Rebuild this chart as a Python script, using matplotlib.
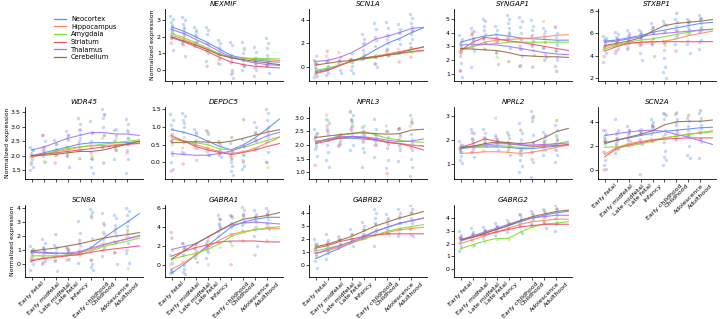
import numpy as np
import matplotlib
matplotlib.use("Agg")
import matplotlib.pyplot as plt

# developmental periods (x axis) and brain regions
periods = ["Early fetal", "Early midfetal", "Late midfetal", "Late fetal", "Infancy",
           "Early childhood", "Childhood", "Adolescence", "Adulthood"]
regions = ["Neocortex", "Hippocampus", "Amygdala", "Striatum", "Thalamus", "Cerebellum"]
colors = ["#5b8def", "#ff8a5c", "#7edc3c", "#f0506e", "#a275f5", "#9a6a42"]

genes = ["NEXMIF", "SCN1A", "SYNGAP1", "STXBP1",
         "WDR45", "DEPDC5", "NPRL3", "NPRL2", "SCN2A",
         "SCN8A", "GABRA1", "GABRB2", "GABRG2"]
# (row, col) slot of each gene
slots = [(0, 1), (0, 2), (0, 3), (0, 4),
         (1, 0), (1, 1), (1, 2), (1, 3), (1, 4),
         (2, 0), (2, 1), (2, 2), (2, 3)]

# smoothed trend per region (Neocortex, Hippocampus, Amygdala, Striatum, Thalamus, Cerebellum)
nexmif_lines = [[2.6, 2.35, 2.0, 1.65, 1.25, 0.85, 0.7, 0.6, 0.5, 0.45],
                [2.1, 1.85, 1.55, 1.25, 0.95, 0.75, 0.7, 0.65, 0.6, 0.55],
                [2.2, 1.95, 1.65, 1.3, 0.95, 0.75, 0.7, 0.68, 0.66, 0.65],
                [1.95, 1.7, 1.4, 1.1, 0.75, 0.45, 0.3, 0.2, 0.15, 0.1],
                [2.45, 2.2, 1.85, 1.5, 1.1, 0.75, 0.55, 0.4, 0.3, 0.25],
                [2.0, 1.75, 1.5, 1.2, 0.9, 0.7, 0.6, 0.5, 0.4, 0.3]]
scn1a_lines = [[-0.4, -0.2, 0.15, 0.5, 0.85, 1.45, 2.0, 2.4, 2.9, 3.3],
               [-0.6, -0.3, 0.1, 0.5, 0.75, 0.9, 1.1, 1.3, 1.5, 1.65],
               [-0.3, -0.1, 0.15, 0.45, 0.65, 0.8, 1.0, 1.1, 1.25, 1.35],
               [-0.5, -0.3, 0.1, 0.5, 0.75, 0.85, 1.0, 1.15, 1.3, 1.4],
               [0.45, 0.55, 0.8, 1.2, 1.75, 2.35, 2.6, 2.9, 3.25, 3.35],
               [0.15, 0.3, 0.45, 0.55, 0.7, 0.85, 1.0, 1.2, 1.45, 1.7]]
syngap1_lines = [[3.3, 3.55, 3.75, 3.85, 3.75, 3.6, 3.55, 3.5, 3.45, 3.45],
                 [2.7, 3.0, 3.3, 3.45, 3.5, 3.55, 3.6, 3.7, 3.8, 3.85],
                 [2.8, 3.0, 3.15, 3.2, 3.3, 3.3, 3.3, 3.3, 3.3, 3.3],
                 [2.7, 3.3, 3.65, 3.55, 3.4, 3.3, 3.15, 3.0, 2.85, 2.7],
                 [3.1, 3.15, 3.15, 3.1, 3.0, 2.85, 2.7, 2.55, 2.45, 2.4],
                 [2.85, 2.8, 2.75, 2.7, 2.55, 2.35, 2.3, 2.25, 2.25, 2.2]]
stxbp1_lines = [[5.3, 5.4, 5.6, 5.8, 6.1, 6.3, 6.5, 6.7, 6.9, 7.0],
                [4.8, 5.0, 5.1, 5.2, 5.2, 5.3, 5.5, 5.8, 6.0, 6.2],
                [4.6, 4.9, 5.2, 5.4, 5.5, 5.7, 5.9, 6.1, 6.3, 6.4],
                [4.4, 4.8, 5.1, 5.2, 5.25, 5.25, 5.25, 5.25, 5.25, 5.25],
                [5.2, 5.3, 5.5, 5.7, 5.9, 6.0, 6.1, 6.2, 6.3, 6.35],
                [4.9, 5.1, 5.3, 5.6, 6.2, 6.7, 6.9, 7.0, 7.1, 7.25]]
wdr45_lines = [[2.0, 2.1, 2.2, 2.3, 2.4, 2.45, 2.45, 2.45, 2.45, 2.5],
               [1.95, 2.05, 2.15, 2.2, 2.3, 2.35, 2.35, 2.38, 2.4, 2.45],
               [2.0, 2.05, 2.15, 2.25, 2.3, 2.35, 2.4, 2.45, 2.5, 2.55],
               [2.0, 2.05, 2.1, 2.15, 2.2, 2.25, 2.3, 2.35, 2.4, 2.42],
               [2.2, 2.3, 2.45, 2.6, 2.7, 2.8, 2.8, 2.75, 2.75, 2.7],
               [2.0, 2.02, 2.05, 2.1, 2.15, 2.15, 2.2, 2.3, 2.4, 2.5]]
depdc5_lines = [[0.92, 0.85, 0.75, 0.6, 0.45, 0.35, 0.5, 0.7, 0.95, 1.22],
                [0.7, 0.6, 0.5, 0.4, 0.3, 0.25, 0.3, 0.4, 0.55, 0.7],
                [0.65, 0.6, 0.55, 0.5, 0.38, 0.35, 0.42, 0.52, 0.62, 0.72],
                [0.75, 0.6, 0.45, 0.35, 0.28, 0.22, 0.28, 0.35, 0.45, 0.53],
                [0.25, 0.22, 0.2, 0.2, 0.25, 0.32, 0.45, 0.6, 0.75, 0.85],
                [0.55, 0.57, 0.58, 0.57, 0.55, 0.6, 0.68, 0.77, 0.85, 0.92]]
nprl3_lines = [[2.1, 2.2, 2.25, 2.25, 2.22, 2.18, 2.1, 2.05, 2.0, 1.97],
               [2.15, 2.2, 2.3, 2.3, 2.28, 2.2, 2.12, 2.05, 2.0, 1.95],
               [2.1, 2.2, 2.35, 2.42, 2.5, 2.38, 2.25, 2.18, 2.12, 2.1],
               [2.05, 2.15, 2.25, 2.3, 2.27, 2.2, 2.1, 2.05, 1.95, 1.82],
               [2.1, 2.22, 2.3, 2.32, 2.3, 2.25, 2.18, 2.12, 2.15, 2.22],
               [2.28, 2.33, 2.38, 2.43, 2.45, 2.42, 2.4, 2.42, 2.55, 2.58]]
nprl2_lines = [[1.65, 1.7, 1.72, 1.72, 1.7, 1.65, 1.65, 1.7, 1.75, 1.8],
               [1.45, 1.48, 1.52, 1.52, 1.5, 1.45, 1.5, 1.6, 1.7, 1.8],
               [1.7, 1.72, 1.76, 1.78, 1.75, 1.7, 1.72, 1.78, 1.85, 1.95],
               [1.7, 1.85, 2.05, 1.95, 1.85, 1.8, 1.75, 1.75, 1.78, 1.82],
               [1.7, 1.75, 1.8, 1.85, 1.85, 1.8, 1.8, 1.82, 1.85, 1.88],
               [1.68, 1.75, 1.85, 1.92, 1.9, 1.85, 1.9, 2.1, 2.35, 2.48]]
scn2a_lines = [[2.2, 2.5, 2.7, 2.9, 3.1, 3.25, 3.35, 3.45, 3.55, 3.6],
               [1.3, 1.9, 2.2, 2.4, 2.55, 2.7, 2.85, 3.0, 3.15, 3.3],
               [1.9, 1.95, 2.0, 2.2, 2.4, 2.7, 2.85, 3.0, 3.1, 3.2],
               [1.1, 1.8, 2.1, 2.3, 2.5, 2.6, 2.65, 2.7, 2.7, 2.7],
               [2.9, 3.05, 3.2, 3.3, 3.35, 3.25, 3.0, 2.75, 2.45, 2.15],
               [2.3, 2.5, 2.75, 3.0, 3.3, 3.8, 4.05, 4.1, 4.1, 4.2]]
scn8a_lines = [[0.9, 0.85, 0.8, 0.75, 0.8, 1.2, 1.85, 2.45, 3.0, 3.6],
               [0.3, 0.45, 0.55, 0.65, 0.8, 1.05, 1.35, 1.6, 1.8, 2.05],
               [0.6, 0.6, 0.6, 0.65, 0.65, 0.95, 1.25, 1.45, 1.65, 1.85],
               [0.25, 0.4, 0.5, 0.6, 0.7, 0.85, 1.0, 1.1, 1.2, 1.3],
               [0.85, 0.8, 0.75, 0.8, 0.9, 1.15, 1.4, 1.6, 1.8, 2.0],
               [0.95, 1.05, 1.15, 1.3, 1.45, 1.65, 1.85, 2.0, 2.1, 2.25]]
gabra1_lines = [[-0.9, 0.0, 1.0, 2.0, 3.0, 4.0, 4.5, 4.8, 5.0, 5.0],
                [-0.5, 0.2, 1.0, 1.8, 2.6, 3.2, 3.5, 3.7, 3.8, 3.8],
                [0.6, 0.9, 1.2, 1.6, 2.2, 3.0, 3.4, 3.7, 3.9, 4.0],
                [0.9, 1.4, 1.8, 2.1, 2.4, 2.5, 2.5, 2.5, 2.4, 2.4],
                [1.6, 1.9, 2.2, 2.9, 3.6, 4.2, 4.4, 4.5, 4.4, 4.3],
                [0.6, 1.4, 2.2, 2.9, 3.6, 4.3, 4.8, 5.0, 5.2, 5.5]]
gabrb2_lines = [[0.5, 0.9, 1.3, 1.7, 2.1, 2.6, 2.9, 3.2, 3.4, 3.6],
                [0.9, 1.1, 1.4, 1.7, 2.0, 2.3, 2.5, 2.7, 2.8, 2.9],
                [1.1, 1.3, 1.5, 1.8, 2.0, 2.3, 2.6, 2.8, 2.95, 3.1],
                [1.3, 1.5, 1.8, 2.0, 2.2, 2.3, 2.4, 2.4, 2.4, 2.4],
                [0.9, 1.2, 1.5, 1.8, 2.2, 2.6, 2.9, 3.2, 3.4, 3.6],
                [1.4, 1.6, 1.9, 2.2, 2.6, 3.0, 3.3, 3.6, 3.85, 4.1]]
gabrg2_lines = [[2.2, 2.5, 2.8, 3.1, 3.4, 3.7, 4.0, 4.2, 4.4, 4.5],
                [2.0, 2.3, 2.6, 2.9, 3.2, 3.5, 3.7, 3.8, 3.9, 3.9],
                [1.6, 1.9, 2.2, 2.4, 2.4, 2.9, 3.3, 3.5, 3.6, 3.7],
                [2.3, 2.5, 2.7, 2.9, 3.1, 3.3, 3.4, 3.5, 3.5, 3.5],
                [2.3, 2.6, 2.9, 3.2, 3.5, 3.8, 4.0, 4.1, 4.2, 4.2],
                [2.3, 2.5, 2.8, 3.1, 3.4, 3.8, 4.1, 4.3, 4.5, 4.6]]

# neocortex samples per period
nexmif_ncx = [[3.3, 3.1, 2.9, 2.7, 2.6, 2.5, 2.3, 2.0, 1.2], [3.2, 3.0, 2.8, 2.6, 2.5, 2.3, 2.1, 1.6, 0.8],
              [2.6, 2.4, 2.3, 2.1, 1.7], [2.6, 2.4, 2.2, 1.6, 1.0, 0.5], [1.8, 1.6, 1.4, 1.0, 0.7, 0.4],
              [1.7, 1.5, 0.9, 0.5, 0.0, -0.3, -0.5], [1.7, 1.3, 1.0, 0.6, 0.2, 0.0],
              [1.4, 1.1, 0.7, 0.4, 0.0, -0.4], [1.9, 1.6, 1.3, 0.9, 0.5, 0.2, -0.2]]
scn1a_ncx = [[0.6, 0.2, 0.0, -0.2, -0.4, -0.6, -0.8, -0.9], [0.5, 0.1, -0.1, -0.3, -0.5, -0.7],
             [0.2, -0.3, -0.5], [0.7, 0.4, 0.1, -0.3, -0.5], [2.8, 2.4, 1.9, 1.4, 1.0, 0.7],
             [3.7, 3.2, 2.5, 1.8, 0.8, 0.3, 0.0], [3.8, 3.3, 2.7, 2.4, 2.0, 1.5, 1.0],
             [3.6, 3.2, 2.9, 2.4, 1.9, 1.2], [4.5, 4.1, 3.7, 3.4, 3.1, 2.8, 2.4, 2.0]]
syngap1_ncx = [[3.8, 3.5, 3.2, 3.0, 2.7, 2.3, 1.8, 1.3, 0.8], [4.3, 4.1, 3.9, 3.6, 3.4, 3.1, 2.7, 1.5],
               [5.0, 4.8, 4.5, 4.2, 3.9, 3.6], [4.5, 4.2, 3.9, 3.6, 3.3, 2.5, 1.7],
               [5.3, 5.0, 4.7, 4.3, 4.0, 3.6, 2.9], [5.1, 4.8, 4.4, 4.0, 3.5, 2.8, 2.3, 1.6],
               [4.9, 4.5, 4.2, 3.8, 3.4, 3.0, 2.4], [4.3, 4.1, 3.9, 3.6, 3.3, 2.9, 2.2],
               [4.4, 4.0, 3.7, 3.4, 3.1, 2.7, 2.2, 1.6]]
stxbp1_ncx = [[5.8, 5.6, 5.4, 5.2, 5.0, 4.7, 4.2, 3.4], [6.1, 5.9, 5.7, 5.5, 5.3, 5.0, 4.6, 4.2],
              [6.3, 6.0, 5.8, 5.5, 5.1, 4.6], [6.3, 6.1, 5.9, 5.6, 5.0, 4.2, 3.6],
              [6.9, 6.6, 6.3, 6.0, 5.6, 5.0, 4.0], [7.1, 6.8, 6.1, 5.2, 4.5, 3.8, 3.0, 2.5, 2.0],
              [7.3, 7.0, 6.7, 6.3, 5.8, 5.0], [7.3, 7.1, 6.9, 6.6, 6.0, 5.0, 4.2],
              [7.7, 7.4, 7.2, 6.9, 6.6, 6.2, 5.4, 4.6]]
wdr45_ncx = [[2.3, 2.2, 2.1, 2.0, 1.9, 1.8, 1.6, 1.5], [2.7, 2.5, 2.3, 2.2, 2.1, 2.0, 1.8],
             [2.55, 2.4, 2.25, 2.15, 2.05], [2.85, 2.7, 2.6, 2.55, 2.3, 2.0, 1.6],
             [3.3, 3.1, 2.9, 2.75, 2.6, 2.5, 2.2], [3.2, 2.8, 2.5, 2.3, 1.9, 1.6, 1.4],
             [3.6, 3.45, 3.3, 3.0, 2.7, 2.3], [2.9, 2.7, 2.5, 2.35, 2.2, 1.9],
             [3.25, 3.1, 2.9, 2.6, 2.4, 2.2, 1.9, 1.4]]
depdc5_ncx = [[1.35, 1.2, 1.05, 0.95, 0.8, 0.6, 0.3, 0.0, -0.2], [1.4, 1.3, 1.2, 1.1, 1.0, 0.85, 0.6, 0.3],
              [0.95, 0.85, 0.8, 0.6, 0.4], [0.9, 0.8, 0.6, 0.4, 0.2], [0.6, 0.5, 0.35, 0.25, 0.15],
              [0.55, 0.3, 0.1, 0.0, -0.1, -0.25, -0.35], [0.65, 0.45, 0.2, 0.0, -0.1, -0.2],
              [1.15, 1.0, 0.85, 0.65, 0.4], [1.5, 1.4, 1.2, 1.0, 0.8, 0.6, 0.3, 0.0]]
nprl3_ncx = [[2.6, 2.45, 2.3, 2.15, 2.0, 1.85, 1.6], [2.95, 2.8, 2.6, 2.4, 2.2, 2.0, 1.75, 1.45, 1.2],
             [2.35, 2.2, 2.05, 1.95], [3.25, 3.1, 2.95, 2.85, 2.7, 2.55, 2.0, 1.8],
             [2.65, 2.4, 2.2, 1.9, 1.75, 1.2], [2.95, 2.6, 2.4, 2.2, 2.0, 1.55],
             [2.5, 2.3, 2.1, 1.9, 1.45, 1.15], [2.6, 2.4, 2.2, 2.0, 1.8, 1.4],
             [3.1, 2.8, 2.4, 2.1, 1.8, 1.5, 1.2, 0.85]]
nprl2_ncx = [[1.95, 1.8, 1.65, 1.5, 1.35, 1.2, 1.05], [2.45, 2.3, 2.1, 1.9, 1.7, 1.5, 1.3],
             [2.45, 2.3, 2.1, 1.9, 1.75], [2.2, 2.05, 1.9, 1.75, 1.6], [2.35, 2.1, 1.85, 1.65, 1.4],
             [2.7, 2.3, 1.9, 1.6, 1.4, 1.2, 0.95, 0.7], [3.2, 3.0, 2.8, 2.2, 1.9, 1.5, 1.1, 0.5],
             [2.35, 2.15, 1.95, 1.8, 1.6, 1.4], [2.6, 2.4, 2.2, 2.0, 1.8, 1.6, 1.4, 1.1]]
scn2a_ncx = [[3.4, 3.0, 2.8, 2.6, 2.4, 1.5, 0.8, 0.4, 0.1], [4.3, 3.4, 3.0, 2.7, 2.4, 2.1, 1.8, 1.4],
             [3.7, 3.4, 3.2, 2.8, 2.4], [3.4, 3.2, 3.0, 2.6, 2.2], [4.3, 4.0, 3.8, 3.6, 3.3, 3.0],
             [4.8, 4.6, 4.3, 3.0, 1.6, 1.1, 0.8, 0.4], [4.7, 4.3, 4.0, 3.8, 3.4, 2.7],
             [4.4, 4.1, 3.7, 3.4, 2.0, 1.3, 1.0], [4.8, 4.4, 4.1, 3.8, 3.5, 3.1, 2.6, 1.0]]
scn8a_ncx = [[1.3, 1.1, 0.9, 0.7, 0.5, 0.3, 0.0, -0.4], [1.8, 1.5, 1.2, 1.0, 0.8, 0.5, 0.2, 0.0],
             [1.4, 1.2, 0.9, 0.3, -0.5], [1.2, 1.0, 0.9, 0.7, 0.4], [3.1, 2.2, 1.5, 1.0, 0.8, 0.1],
             [3.9, 3.7, 3.5, 0.3, 0.0, -0.2, -0.4], [3.6, 2.8, 2.3, 1.8, 1.2, 0.6],
             [3.5, 3.3, 2.8, 2.3, 1.6, 0.9, 0.0], [4.0, 3.8, 3.5, 3.1, 2.7, 2.2, 1.5, 0.8, 0.1]]
gabra1_ncx = [[1.0, 0.2, -0.5, -0.7, -0.8, -0.9], [2.3, 1.8, 1.0, 0.0, -0.5, -0.8, -1.0],
              [1.8, 1.4, 1.0, 0.7, 0.3], [2.3, 2.1, 1.9, 1.6, 1.3, 0.7], [5.2, 4.8, 4.4, 4.2, 4.0, 3.6],
              [5.2, 5.0, 4.4, 4.0, 3.2, 2.4], [6.1, 5.8, 5.4, 5.0, 4.6, 4.2],
              [5.8, 5.4, 5.0, 4.6, 4.0, 3.0, 2.0], [6.0, 5.7, 5.4, 5.1, 4.8, 4.4, 3.8]]
gabrb2_ncx = [[2.0, 1.6, 1.3, 1.0, 0.7, 0.3, -0.2], [2.4, 1.9, 1.5, 1.2, 0.9, 0.5],
              [2.2, 1.9, 1.6, 1.3], [2.8, 2.4, 2.0, 1.8, 1.5], [3.3, 3.0, 2.7, 2.4, 2.1],
              [4.3, 4.0, 3.6, 3.2, 2.6, 1.5], [3.9, 3.6, 3.2, 2.8, 2.4],
              [4.3, 4.0, 3.6, 3.2, 2.8, 2.2], [4.6, 4.3, 4.0, 3.6, 3.2, 2.8, 2.2]]
gabrg2_ncx = [[3.0, 2.7, 2.4, 2.1, 1.8, 1.4], [3.2, 2.9, 2.6, 2.3, 1.9], [3.3, 3.0, 2.7, 2.4],
              [3.6, 3.3, 3.0, 2.7], [3.8, 3.5, 3.2, 2.9], [4.3, 4.0, 3.7, 3.3, 2.8],
              [4.5, 4.2, 3.9, 3.5], [4.7, 4.4, 4.1, 3.7, 3.2], [5.0, 4.7, 4.4, 4.0, 3.6, 3.0]]

# other-region samples per period: Hippocampus, Amygdala, Striatum, Thalamus, Cerebellum
nexmif_oth = [[2.1, 2.2, 1.6, 2.4, 1.9], [1.7, 2.0, 1.5, 2.2, 1.8], [1.5, 1.7, 1.4, 2.0, 1.6],
              [1.1, 1.3, 0.2, 1.5, 1.2], [0.9, 0.3, 0.6, 1.2, 0.9], [0.8, 0.8, 0.4, -0.2, 0.7],
              [0.7, 1.2, 0.3, 0.2, 0.6], [0.6, 0.7, 0.1, 0.3, 0.5], [0.6, 0.7, 0.2, 0.4, 0.3]]
scn1a_oth = [[0.5, -0.2, 0.2, 0.9, 0.3], [0.9, 0.0, 1.3, 0.6, 0.4], [1.2, 0.3, 0.5, 0.8, 0.5],
             [0.6, 0.4, 0.5, 1.1, 0.6], [0.7, 1.1, 0.8, 2.0, 0.7], [0.9, 1.0, 0.2, 2.2, 0.8],
             [1.2, 0.9, 1.4, 2.6, 1.0], [1.5, 1.2, 0.4, 2.9, 1.2], [1.6, 1.2, 0.8, 3.0, 1.6]]
syngap1_oth = [[2.6, 2.9, 1.2, 3.3, 2.5], [3.8, 3.2, 4.0, 3.5, 2.9], [3.5, 3.3, 3.6, 3.2, 2.8],
               [3.3, 2.2, 3.6, 3.4, 2.6], [3.6, 4.0, 3.4, 3.8, 1.9], [3.6, 3.5, 3.0, 2.8, 1.6],
               [3.7, 3.3, 3.1, 2.7, 1.5], [4.8, 3.3, 2.9, 2.4, 2.0], [4.4, 3.2, 2.7, 2.0, 1.2]]
stxbp1_oth = [[4.5, 4.8, 3.9, 5.4, 4.8], [4.9, 5.2, 4.4, 5.5, 5.2], [5.0, 5.4, 4.7, 5.8, 5.3],
              [5.1, 5.3, 4.9, 5.9, 5.6], [5.3, 5.5, 5.0, 6.0, 6.5], [5.3, 4.9, 5.1, 6.1, 6.8],
              [5.6, 5.9, 4.4, 6.2, 7.8], [5.9, 6.2, 5.3, 6.3, 7.0], [6.1, 6.4, 5.2, 6.3, 7.3]]
wdr45_oth = [[1.95, 2.0, 1.7, 2.2, 2.0], [2.2, 1.8, 2.7, 2.3, 2.1], [2.1, 2.2, 1.75, 2.4, 2.0],
             [2.3, 2.2, 2.0, 2.7, 2.1], [2.4, 2.3, 2.2, 2.9, 1.9], [2.4, 2.0, 2.1, 2.8, 1.9],
             [2.6, 2.7, 2.3, 3.4, 1.75], [2.5, 2.6, 2.3, 2.9, 2.2], [2.4, 2.6, 2.1, 2.8, 2.4]]
depdc5_oth = [[0.75, 0.5, -0.25, 0.2, 0.6], [0.4, 0.7, -0.05, 0.25, 0.55], [0.5, 0.6, 0.4, 0.05, 0.5],
              [0.4, 0.5, 0.3, 0.2, 0.85], [0.3, 0.3, 0.2, 0.25, 0.55], [0.2, 0.1, 0.15, 0.3, 0.7],
              [0.3, 0.2, 0.05, 0.45, 1.2], [0.4, 0.6, 0.35, 0.6, 0.8], [0.55, -0.15, 0.0, 0.7, 0.9]]
nprl3_oth = [[2.2, 1.9, 1.25, 2.4, 2.3], [3.1, 2.9, 2.7, 2.2, 2.5], [2.3, 2.1, 2.0, 2.4, 2.3],
             [3.2, 2.7, 2.6, 2.4, 2.9], [2.4, 2.7, 2.1, 2.3, 2.5], [2.2, 2.1, 2.0, 2.3, 2.4],
             [2.7, 2.1, 0.95, 2.0, 2.5], [2.2, 1.9, 2.6, 2.3, 2.6], [2.7, 2.95, 1.9, 2.2, 2.85]]
nprl2_oth = [[1.7, 1.8, 1.6, 1.75, 1.5], [1.5, 1.9, 2.3, 1.6, 2.0], [1.55, 1.9, 2.1, 1.85, 2.0],
             [2.9, 2.0, 2.1, 1.95, 1.9], [1.5, 1.7, 1.9, 1.8, 2.2], [1.4, 1.6, 1.5, 2.0, 2.4],
             [1.5, 1.7, 1.2, 1.9, 2.9], [1.65, 2.0, 1.9, 2.2, 1.8], [1.6, 2.1, 1.85, 2.0, 2.8]]
scn2a_oth = [[1.5, 2.1, 0.0, 3.3, 2.4], [1.7, 1.8, 2.2, 3.1, 2.6], [2.2, 2.0, 2.5, 3.3, 3.0],
             [2.4, 2.2, -0.4, 3.4, 3.1], [2.6, 2.4, 2.4, 3.6, 3.7], [2.8, 2.6, 2.3, 3.3, 4.7],
             [2.9, 2.8, 2.5, 3.1, 4.8], [3.0, 3.0, 2.8, 2.8, 4.6], [3.2, 3.2, 2.6, 2.3, 5.0]]
scn8a_oth = [[0.4, 0.6, 0.2, 1.0, 0.9], [0.6, 0.4, 0.1, 0.9, 1.1], [0.5, 0.6, 0.2, 1.1, 2.1],
             [0.6, 0.7, 0.3, 1.0, 1.1], [0.8, 0.6, 0.8, 1.3, 1.7], [1.2, 1.0, 0.3, 1.8, 3.3],
             [1.4, 1.5, 1.0, 2.1, 2.9], [1.6, 1.5, 0.8, 2.0, 2.5], [1.9, -0.3, 1.0, 1.9, 2.4]]
gabra1_oth = [[0.0, 0.5, 3.4, 1.5, 2.8], [0.3, 1.0, 2.2, 1.8, 1.6], [1.0, 1.2, 1.7, 2.2, 2.1],
              [1.8, 0.0, 2.0, 2.9, 2.5], [3.0, 1.8, 2.3, 3.8, 4.8], [3.2, 2.0, 0.0, 4.2, 5.1],
              [3.6, 3.4, 2.5, 4.4, 5.2], [3.8, 3.6, 1.0, 4.5, 5.0], [3.9, 4.0, 2.5, 4.3, 5.3]]
gabrb2_oth = [[1.0, 1.5, 1.2, 0.8, 1.6], [1.2, 1.4, 1.6, 1.1, 1.7], [1.4, 1.6, 1.9, 1.5, 2.0],
              [1.7, 1.8, 2.0, 1.9, 2.3], [2.0, 2.1, 2.2, 2.3, 2.7], [2.3, 2.4, 2.3, 2.7, 3.1],
              [2.5, 2.6, 2.4, 3.0, 3.4], [2.7, 2.8, 2.4, 3.2, 3.7], [2.8, 2.9, 2.3, 3.4, 4.0]]
gabrg2_oth = [[2.0, 1.6, 2.4, 2.4, 2.5], [2.3, 1.8, 2.6, 2.7, 2.7], [2.6, 2.1, 2.8, 3.0, 3.0],
              [2.9, 2.3, 2.9, 3.3, 3.3], [3.2, 2.3, 3.1, 3.5, 3.6], [3.5, 2.9, 3.4, 3.8, 4.2],
              [3.7, 3.3, 3.4, 4.0, 4.3], [3.8, 3.5, 3.6, 4.1, 4.5], [3.9, 3.6, 3.5, 4.2, 4.7]]

ylims = [(-0.7, 3.7), (-1.2, 4.9), (0.5, 5.7), (1.7, 8.2),
         (1.2, 3.68), (-0.47, 1.56), (0.75, 3.4), (0.4, 3.36), (-0.76, 5.3),
         (-0.9, 4.2), (-1.3, 6.3), (-0.9, 4.6), (-0.6, 5.0)]
yticks = [[0, 1, 2, 3], [0, 2, 4], [1, 2, 3, 4, 5], [2, 4, 6, 8],
          [1.5, 2.0, 2.5, 3.0, 3.5], [0.0, 0.5, 1.0, 1.5], [1.0, 1.5, 2.0, 2.5, 3.0], [1, 2, 3], [0, 2, 4],
          [0, 1, 2, 3, 4], [0, 2, 4, 6], [0, 1, 2, 3, 4], [0, 1, 2, 3, 4]]

all_lines = [nexmif_lines, scn1a_lines, syngap1_lines, stxbp1_lines, wdr45_lines, depdc5_lines,
             nprl3_lines, nprl2_lines, scn2a_lines, scn8a_lines, gabra1_lines, gabrb2_lines, gabrg2_lines]
all_ncx = [nexmif_ncx, scn1a_ncx, syngap1_ncx, stxbp1_ncx, wdr45_ncx, depdc5_ncx,
           nprl3_ncx, nprl2_ncx, scn2a_ncx, scn8a_ncx, gabra1_ncx, gabrb2_ncx, gabrg2_ncx]
all_oth = [nexmif_oth, scn1a_oth, syngap1_oth, stxbp1_oth, wdr45_oth, depdc5_oth,
           nprl3_oth, nprl2_oth, scn2a_oth, scn8a_oth, gabra1_oth, gabrb2_oth, gabrg2_oth]

W, H = 720, 319
fig = plt.figure(figsize=(W / 100, H / 100), dpi=100)
lefts = [25, 165, 309, 454, 598]
tops = [9, 107, 205]
aw, ah = 118, 72

def make_ax(r, c):
    return fig.add_axes([lefts[c] / W, 1 - (tops[r] + ah) / H, aw / W, ah / H])

line_x = np.arange(10)
for k, gene in enumerate(genes):
    r, c = slots[k]
    ax = make_ax(r, c)
    # neocortex samples
    for i, vals in enumerate(all_ncx[k]):
        n = len(vals)
        xs = i + np.linspace(-0.12, 0.12, n) * np.tile([1, -1], n)[:n]
        ax.scatter(xs, vals, s=6, color=colors[0], alpha=0.35, lw=0)
    # other regions
    for i, vals in enumerate(all_oth[k]):
        xs = i + np.array([-0.08, 0.06, -0.03, 0.09, 0.02])
        ax.scatter(xs, vals, s=6, c=colors[1:], alpha=0.35, lw=0)
    for j, ys in enumerate(all_lines[k]):
        ax.plot(line_x, ys, color=colors[j], lw=0.8, alpha=0.9)
    ax.set_xlim(-0.55, 9.3)
    ax.set_ylim(*ylims[k])
    ax.set_yticks(yticks[k])
    ax.set_xticks(range(len(periods)))
    if r == 2 or gene == "SCN2A":
        ax.set_xticklabels(periods, rotation=45, fontsize=4.0)
    else:
        ax.set_xticklabels([])
    ax.set_title(gene, fontsize=5.2, style="italic", pad=2)
    if c == 0 or gene == "NEXMIF":
        ax.set_ylabel("Normalized expression", fontsize=4.4, labelpad=1)
    ax.tick_params(labelsize=4.5, length=2, width=0.5, pad=1.0)
    for s in ["top", "right"]:
        ax.spines[s].set_visible(False)
    for s in ["left", "bottom"]:
        ax.spines[s].set_linewidth(0.6)

# legend in the empty top-left slot
handles = [plt.Line2D([], [], color=colors[j], lw=0.9) for j in range(len(regions))]
fig.legend(handles, regions, loc="upper left", bbox_to_anchor=(48 / W, 1 - 10 / H), frameon=False,
           fontsize=4.8, handlelength=1.8, labelspacing=0.25, handletextpad=0.75, borderpad=0.4)

fig.savefig("out.png", dpi=100)
